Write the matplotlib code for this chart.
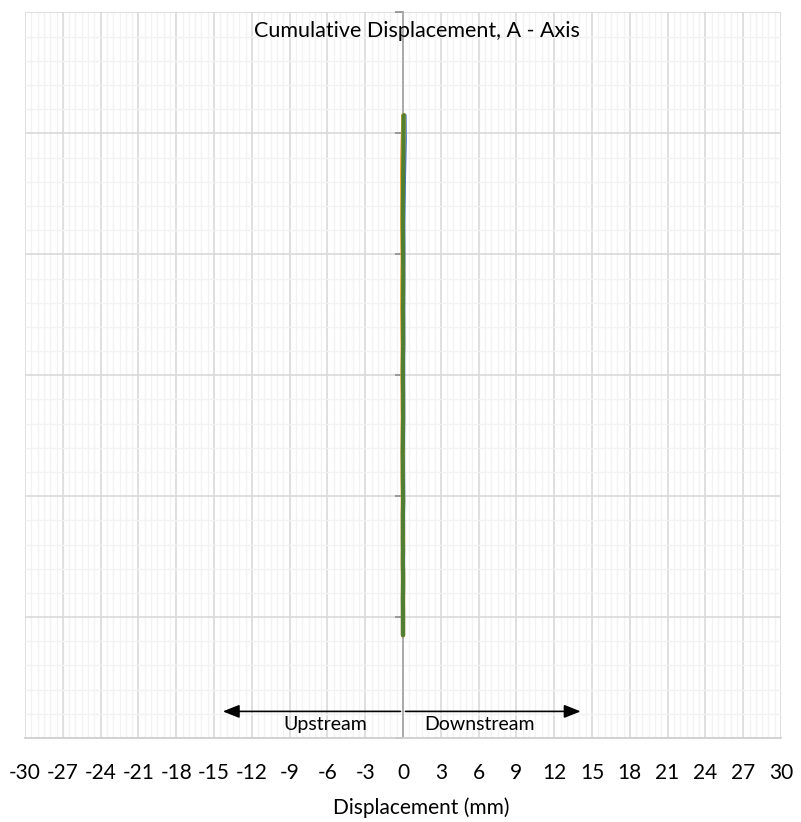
import matplotlib.pyplot as plt
from matplotlib.ticker import MultipleLocator

# depth below top of casing (m), one reading every 0.5 m
depth = [4.25, 4.75, 5.25, 5.75, 6.25, 6.75, 7.25, 7.75, 8.25, 8.75,
         9.25, 9.75, 10.25, 10.75, 11.25, 11.75, 12.25, 12.75, 13.25, 13.75,
         14.25, 14.75, 15.25, 15.75, 16.25, 16.75, 17.25, 17.75, 18.25, 18.75,
         19.25, 19.75, 20.25, 20.75, 21.25, 21.75, 22.25, 22.75, 23.25, 23.75,
         24.25, 24.75, 25.25, 25.75]

# cumulative displacement of each reading (mm)
read_1 = [0.12, 0.13, 0.14, 0.12, 0.10, 0.08, 0.06, 0.05, 0.04, 0.03,
          0.03, 0.03, 0.03, 0.02, 0.03, 0.02, 0.02, 0.02, 0.02, 0.02,
          0.01, 0.02, 0.01, 0.01, 0.01, 0.01, 0.01, 0.01, 0.01, 0.01,
          0.01, 0.01, 0.01, 0.00, 0.01, 0.00, 0.01, 0.00, 0.00, 0.01,
          0.00, 0.00, 0.00, 0.00]
read_2 = [0.03, 0.01, -0.02, -0.04, -0.05, -0.06, -0.05, -0.04, -0.05, -0.05,
          -0.04, -0.03, -0.02, -0.03, -0.04, -0.05, -0.05, -0.04, -0.03, -0.02,
          -0.02, -0.02, -0.03, -0.02, -0.02, -0.01, -0.02, -0.01, -0.02, -0.02,
          -0.02, -0.01, -0.01, -0.01, -0.01, -0.01, 0.00, -0.01, 0.00, 0.00,
          0.00, 0.00, 0.00, 0.00]
read_3 = [0.06, 0.05, 0.04, 0.03, 0.01, 0.00, -0.01, -0.02, -0.02, -0.02,
          -0.01, -0.01, 0.00, -0.01, -0.01, -0.02, -0.01, -0.01, 0.00, 0.01,
          0.00, -0.01, -0.01, -0.01, 0.00, 0.01, 0.00, -0.01, -0.01, -0.01,
          0.00, 0.01, 0.00, -0.01, 0.00, 0.01, 0.00, -0.01, 0.00, 0.00,
          0.00, 0.00, 0.00, 0.00]
read_4 = [0.04, 0.03, 0.02, 0.00, -0.02, -0.03, -0.03, -0.03, -0.03, -0.04,
          -0.03, -0.02, -0.01, -0.02, -0.03, -0.03, -0.03, -0.02, -0.02, -0.01,
          -0.01, -0.02, -0.02, -0.01, -0.01, -0.01, -0.01, -0.01, -0.01, -0.01,
          -0.01, -0.01, 0.00, -0.01, 0.00, 0.00, 0.00, -0.01, 0.00, 0.00,
          0.00, 0.00, 0.00, 0.00]
read_5 = [0.05, 0.04, 0.03, 0.03, 0.02, 0.01, 0.01, 0.00, -0.01, -0.01,
          0.00, 0.01, 0.01, 0.02, 0.01, 0.01, 0.00, 0.01, 0.01, 0.01,
          0.00, -0.01, 0.00, 0.01, 0.01, 0.01, 0.00, -0.01, -0.02, -0.01,
          -0.01, 0.00, 0.01, 0.00, -0.01, -0.01, -0.01, 0.00, 0.01, 0.00,
          -0.01, 0.00, 0.00, 0.00]

readings = [read_1, read_2, read_3, read_4, read_5]
colours = ['#4472C4', '#ED7D31', '#A5A5A5', '#FFC000', '#507E32']

x_ticks = list(range(-30, 31, 3))

plt.rcParams['font.family'] = ['Lato', 'DejaVu Sans']

fig = plt.figure(figsize=(8.01, 8.22), dpi=100)
ax = fig.add_axes([25 / 801, 1 - 738 / 822, 756 / 801, 725.5 / 822])

for vals, col in zip(readings, colours):
    ax.plot(vals, depth, color=col, lw=3.0, solid_capstyle='round', zorder=3)

ax.set_xlim(-30, 30)
ax.set_ylim(30, 0)
ax.set_xticks(x_ticks)
ax.set_xticklabels([str(t) for t in x_ticks], fontsize=15)
ax.xaxis.set_minor_locator(MultipleLocator(0.5))
ax.yaxis.set_major_locator(MultipleLocator(5))
ax.yaxis.set_minor_locator(MultipleLocator(1))
ax.tick_params(axis='x', which='both', length=0, pad=18)
ax.tick_params(axis='y', which='major', length=6, width=1.2, color='#8C8C8C',
               direction='out', labelleft=False)
ax.tick_params(axis='y', which='minor', length=0)

ax.grid(which='major', color='#D9D9D9', lw=1.2)
ax.grid(which='minor', color='#F2F2F2', lw=1.0)
ax.set_axisbelow(True)

# vertical axis crosses at zero displacement
ax.spines['left'].set_position(('data', 0))
ax.spines['left'].set_color('#A6A6A6')
ax.spines['left'].set_linewidth(1.3)
ax.spines['left'].set_zorder(2)
ax.spines['right'].set_visible(False)
ax.spines['top'].set_visible(False)
ax.spines['bottom'].set_color('#D0D0D0')
ax.spines['bottom'].set_linewidth(1.3)

fig.text(421 / 801, 1 - 808 / 822, 'Displacement (mm)', ha='center', va='center',
         fontsize=15)
ax.text(1.07, 0.77, 'Cumulative Displacement, A - Axis', ha='center', va='center',
        fontsize=15.5, zorder=4)

# direction arrows
ax.annotate('', xy=(-14.3, 28.9), xytext=(-0.2, 28.9),
            arrowprops=dict(arrowstyle='-|>,head_length=1.0,head_width=0.4',
                            color='black', lw=1.2, shrinkA=0, shrinkB=0))
ax.annotate('', xy=(14.1, 28.9), xytext=(0.2, 28.9),
            arrowprops=dict(arrowstyle='-|>,head_length=1.0,head_width=0.4',
                            color='black', lw=1.2, shrinkA=0, shrinkB=0))
ax.text(-6.2, 29.45, 'Upstream', ha='center', va='center', fontsize=14)
ax.text(6.1, 29.45, 'Downstream', ha='center', va='center', fontsize=14)

fig.savefig('out.png', dpi=100)
